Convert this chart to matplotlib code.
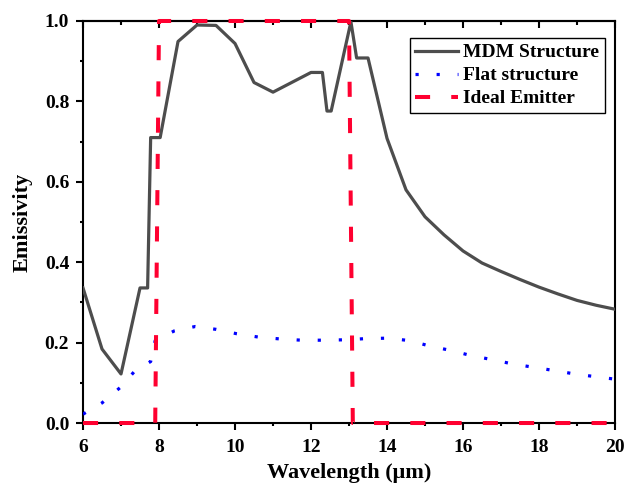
import matplotlib
matplotlib.use("Agg")
import matplotlib.pyplot as plt
from matplotlib.ticker import MultipleLocator

plt.rcParams['font.family'] = ['Liberation Serif', 'DejaVu Serif']
plt.rcParams['font.weight'] = 'bold'

# MDM structure emissivity
mdm_wl = [6.0, 6.5, 7.0, 7.5, 7.7, 7.78, 8.03, 8.5, 9.0, 9.5, 10.0, 10.5,
          11.0, 12.0, 12.3, 12.42, 12.53, 13.05, 13.2, 13.5, 14.0, 14.5,
          15.0, 15.5, 16.0, 16.5, 17.0, 17.5, 18.0, 18.5, 19.0, 19.5, 20.0]
mdm_em = [0.336, 0.184, 0.122, 0.336, 0.336, 0.71, 0.71, 0.949, 0.99, 0.989,
          0.944, 0.847, 0.823, 0.872, 0.872, 0.776, 0.776, 0.998, 0.908,
          0.908, 0.708, 0.58, 0.513, 0.468, 0.428, 0.398, 0.377, 0.357,
          0.338, 0.321, 0.305, 0.293, 0.283]

# flat structure emissivity
flat_wl = [6.0, 6.5, 7.0, 7.35, 7.78, 7.9, 8.4, 8.95, 9.5, 10.05, 10.6, 11.2,
           11.75, 12.3, 12.9, 13.45, 14.0, 14.6, 15.1, 15.7, 16.2, 16.8,
           17.3, 17.9, 18.5, 19.0, 19.6, 20.0]
flat_em = [0.022, 0.05, 0.09, 0.128, 0.153, 0.205, 0.229, 0.24, 0.233, 0.222,
           0.214, 0.209, 0.206, 0.206, 0.207, 0.21, 0.211, 0.205, 0.192,
           0.18, 0.168, 0.157, 0.147, 0.138, 0.129, 0.121, 0.114, 0.109]

# ideal selective emitter (8-13 um window)
ideal_wl = [6.0, 7.9, 8.0, 13.0, 13.1, 20.0]
ideal_em = [0.0, 0.0, 1.0, 1.0, 0.0, 0.0]

fig = plt.figure(figsize=(6.27, 4.86), dpi=100)
ax = fig.add_axes([0.1324, 0.1296, 0.8485, 0.8272])

ax.plot(mdm_wl, mdm_em, color='#4d4d4d', linewidth=2.3,
        label='MDM Structure', zorder=3)
ax.plot(flat_wl, flat_em, color='#0000ff', linewidth=2.3,
        linestyle=(0, (1, 5.6)), label='Flat structure', zorder=3)
ax.plot(ideal_wl, ideal_em, color='#ff0030', linewidth=2.9,
        linestyle=(0, (3.75, 5.25)), label='Ideal Emitter',
        zorder=5, clip_on=False)

ax.set_xlim(6, 20)
ax.set_ylim(0, 1.0)
ax.xaxis.set_major_locator(MultipleLocator(2))
ax.xaxis.set_minor_locator(MultipleLocator(1))
ax.yaxis.set_major_locator(MultipleLocator(0.2))
ax.yaxis.set_minor_locator(MultipleLocator(0.1))
ax.yaxis.set_major_formatter(plt.FormatStrFormatter('%.1f'))

for sp in ax.spines.values():
    sp.set_linewidth(1.5)

ax.tick_params(which='major', direction='out', length=5, width=1.5,
               labelsize=14, top=False, right=False)
ax.tick_params(which='minor', direction='out', length=2.5, width=1.5,
               top=False, right=False)
ax.tick_params(axis='x', which='major', pad=6.5)
ax.tick_params(axis='y', which='major', pad=5)

# mirrored ticks on the top edge, pointing in
top = ax.secondary_xaxis('top')
top.xaxis.set_major_locator(MultipleLocator(2))
top.xaxis.set_minor_locator(MultipleLocator(1))
top.tick_params(which='major', direction='in', length=5, width=1.5,
                labeltop=False)
top.tick_params(which='minor', direction='in', length=3, width=1.5)
top.spines['top'].set_linewidth(1.5)

ax.set_xlabel('Wavelength (\u03bcm)', fontsize=16, fontweight='bold',
              labelpad=5)
ax.set_ylabel('Emissivity', fontsize=16, fontweight='bold', labelpad=9)

leg = ax.legend(loc='upper right', bbox_to_anchor=(0.981, 0.958),
                borderaxespad=0, fontsize=14, handlelength=2.2,
                handletextpad=0.25, labelspacing=0.28, borderpad=0.3,
                fancybox=False, framealpha=1, edgecolor='black')
leg.get_frame().set_linewidth(1.0)
for t in leg.get_texts():
    t.set_fontweight('bold')

fig.savefig('out.png', dpi=100)
plt.close(fig)
